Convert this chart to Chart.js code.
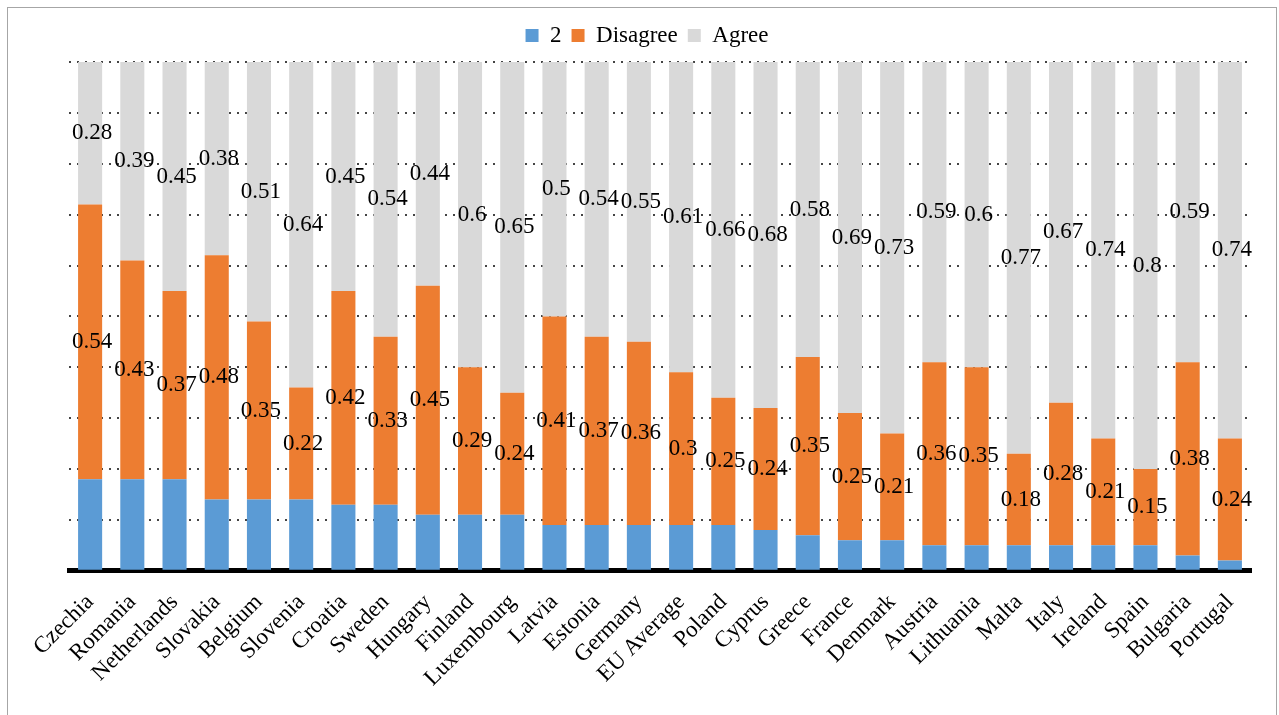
<!DOCTYPE html>
<html>
<head>
<meta charset="utf-8">
<script src="https://cdn.jsdelivr.net/npm/chart.js@4.4.1/dist/chart.umd.min.js"></script>
<style>
  html, body { margin: 0; padding: 0; background: #fff; }
  #frame { position: absolute; left: 7px; top: 7px; width: 1270px; height: 720px; border: 1px solid #a6a6a6; box-sizing: border-box; }
  #chart { position: absolute; left: 0; top: 0; }
</style>
</head>
<body>
<div id="frame"></div>
<canvas id="chart" width="1279" height="715"></canvas>
<script>
const countries = ['Czechia', 'Romania', 'Netherlands', 'Slovakia', 'Belgium', 'Slovenia', 'Croatia', 'Sweden', 'Hungary', 'Finland',
  'Luxembourg', 'Latvia', 'Estonia', 'Germany', 'EU Average', 'Poland', 'Cyprus', 'Greece', 'France', 'Denmark',
  'Austria', 'Lithuania', 'Malta', 'Italy', 'Ireland', 'Spain', 'Bulgaria', 'Portugal'];
const neutral = [0.18, 0.18, 0.18, 0.14, 0.14, 0.14, 0.13, 0.13, 0.11, 0.11,
  0.11, 0.09, 0.09, 0.09, 0.09, 0.09, 0.08, 0.07, 0.06, 0.06,
  0.05, 0.05, 0.05, 0.05, 0.05, 0.05, 0.03, 0.02];
const disagree = [0.54, 0.43, 0.37, 0.48, 0.35, 0.22, 0.42, 0.33, 0.45, 0.29,
  0.24, 0.41, 0.37, 0.36, 0.3, 0.25, 0.24, 0.35, 0.25, 0.21,
  0.36, 0.35, 0.18, 0.28, 0.21, 0.15, 0.38, 0.24];
const agree = [0.28, 0.39, 0.45, 0.38, 0.51, 0.64, 0.45, 0.54, 0.44, 0.6,
  0.65, 0.5, 0.54, 0.55, 0.61, 0.66, 0.68, 0.58, 0.69, 0.73,
  0.59, 0.6, 0.77, 0.67, 0.74, 0.8, 0.59, 0.74];

const SERIF = "'Liberation Serif', 'Times New Roman', serif";

// value labels centred in the Disagree and Agree segments
const valueLabels = {
  id: 'valueLabels',
  afterDatasetsDraw(chart) {
    const ctx = chart.ctx;
    ctx.save();
    ctx.font = '23px ' + SERIF;
    ctx.fillStyle = '#000';
    ctx.textAlign = 'center';
    ctx.textBaseline = 'middle';
    [1, 2].forEach(di => {
      const meta = chart.getDatasetMeta(di);
      meta.data.forEach((bar, i) => {
        const v = chart.data.datasets[di].data[i];
        const p = bar.getProps(['x', 'y', 'base'], true);
        ctx.fillText(String(v), p.x + 2, (p.y + p.base) / 2);
      });
    });
    ctx.restore();
  }
};

// a bit more room under the legend, and nudge it left like the original
const legendTweak = {
  id: 'legendTweak',
  beforeInit(chart) {
    const fit = chart.legend.fit;
    chart.legend.fit = function () {
      fit.bind(chart.legend)();
      this.height += 5;
    };
  },
  afterLayout(chart) {
    chart.legend.left -= 13;
    chart.legend.right -= 13;
  }
};

function draw() {
  new Chart(document.getElementById('chart'), {
    type: 'bar',
    data: {
      labels: countries,
      datasets: [
        { label: '2', data: neutral, backgroundColor: '#5b9bd5' },
        { label: 'Disagree', data: disagree, backgroundColor: '#ed7d31' },
        { label: 'Agree', data: agree, backgroundColor: '#d9d9d9' }
      ]
    },
    options: {
      responsive: false,
      animation: false,
      layout: { padding: { left: 69, right: 28, top: 14, bottom: 13 } },
      datasets: { bar: { categoryPercentage: 1, barPercentage: 0.57 } },
      plugins: {
        legend: {
          position: 'top',
          labels: { font: { family: SERIF, size: 23 }, color: '#000', boxWidth: 13, boxHeight: 13, padding: 10 }
        },
        tooltip: { enabled: false }
      },
      scales: {
        x: {
          stacked: true,
          grid: { display: false },
          border: { color: '#000', width: 5 },
          ticks: { font: { family: SERIF, size: 23 }, color: '#000', minRotation: 45, maxRotation: 45, padding: 10, autoSkip: false }
        },
        y: {
          stacked: true,
          min: 0, max: 1,
          ticks: { display: false, stepSize: 0.1 },
          border: { display: false, dash: [2, 6] },
          grid: { color: '#444', lineWidth: 2, drawTicks: false }
        }
      }
    },
    plugins: [valueLabels, legendTweak]
  });
}

document.fonts.load("23px 'Liberation Serif'").then(draw, draw);
</script>
</body>
</html>
